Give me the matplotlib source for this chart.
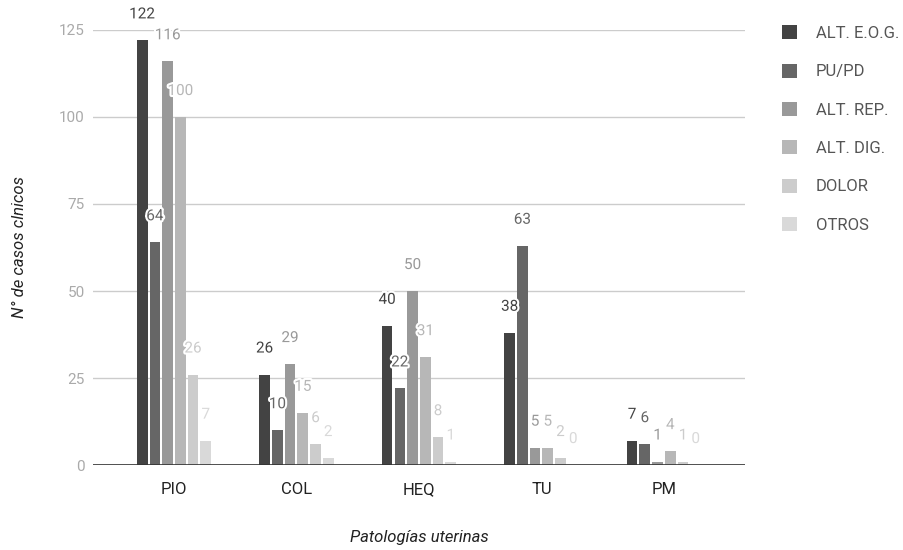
import numpy as np
import matplotlib.pyplot as plt
import matplotlib.patheffects as pe

categorias = ['PIO', 'COL', 'HEQ', 'TU', 'PM']
series = ['ALT. E.O.G.', 'PU/PD', 'ALT. REP.', 'ALT. DIG.', 'DOLOR', 'OTROS']
alt_eog = [122, 26, 40, 38, 7]
pu_pd = [64, 10, 22, 63, 6]
alt_rep = [116, 29, 50, 5, 1]
alt_dig = [100, 15, 31, 5, 4]
dolor = [26, 6, 8, 2, 1]
otros = [7, 2, 1, 0, 0]
colores = ['#434343', '#666666', '#999999', '#b7b7b7', '#cccccc', '#d9d9d9']

valores = [alt_eog, pu_pd, alt_rep, alt_dig, dolor, otros]

plt.rcParams['font.family'] = ['Roboto', 'DejaVu Sans']

fig = plt.figure(figsize=(9.04, 5.5), dpi=100)
ax = fig.add_axes([0.1029, 0.1545, 0.7211, 0.791])

x = np.arange(len(categorias))
paso = 0.1039
ancho = 0.0873
halo = [pe.withStroke(linewidth=3, foreground='white')]

for i, (nombre, vals, col) in enumerate(zip(series, valores, colores)):
    pos = x + (i - 2.5) * paso
    ax.bar(pos, vals, width=ancho, color=col, label=nombre, zorder=3)
    for px, v in zip(pos, vals):
        ax.annotate(str(v), (px, v), xytext=(0, 26), textcoords='offset pixels',
                    ha='center', va='center', fontsize=11, color=col,
                    path_effects=halo, zorder=4)

ax.set_xlim(-0.661, 4.661)
ax.set_ylim(0, 125)
ax.set_yticks([0, 25, 50, 75, 100, 125])
ax.grid(axis='y', color='#cccccc', linewidth=1, zorder=0)
ax.axhline(0, color='#333333', linewidth=1.2, zorder=5)
for s in ax.spines.values():
    s.set_visible(False)
ax.tick_params(axis='y', length=0, pad=6, labelsize=11, labelcolor='#aaaaaa')
ax.tick_params(axis='x', length=0, pad=12, labelsize=12, labelcolor='#222222')
ax.set_xticks(x)
ax.set_xticklabels(categorias)

ax.set_xlabel('Patologías uterinas', fontsize=12, style='italic', color='#222222', labelpad=24)
ax.set_ylabel('N° de casos clnicos', fontsize=12, style='italic', color='#222222')
ax.yaxis.set_label_coords(-0.101, 0.5)

ax.legend(loc='upper left', bbox_to_anchor=(0.849, 0.981), bbox_transform=fig.transFigure,
          frameon=False, fontsize=12, handlelength=0.9, handleheight=0.9,
          labelspacing=1.36, handletextpad=1.1, labelcolor='#555555')

fig.savefig('out.png', dpi=100)
